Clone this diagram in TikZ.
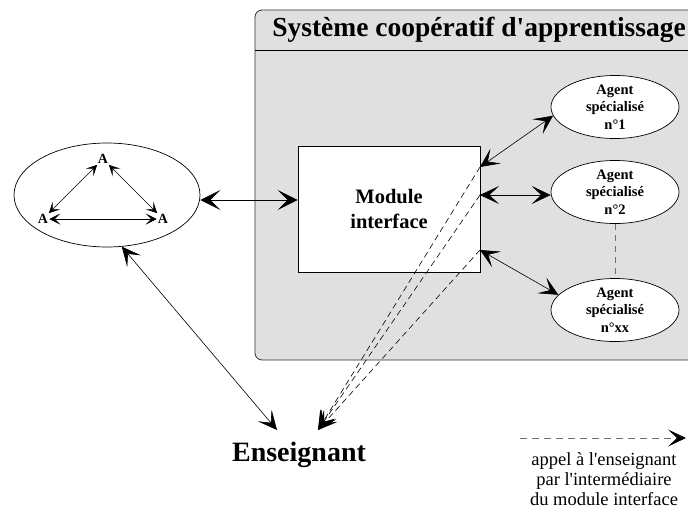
\documentclass[tikz,border=0pt]{standalone}
\usepackage{fontspec}
\setmainfont{Liberation Serif}[Ligatures=TeXOff]
\usetikzlibrary{arrows.meta,shapes.geometric,calc}
\definecolor{sysgrey}{HTML}{E0E0E0}
\definecolor{legendgrey}{HTML}{707070}
\begin{document}
\begin{tikzpicture}[x=1pt,y=-1pt,
  bigarrow/.style={line width=0.7pt,{Stealth[length=20pt,width=20pt,inset=10pt]}-{Stealth[length=20pt,width=20pt,inset=10pt]}},
  midarrow/.style={line width=0.6pt,{Stealth[length=19pt,width=18pt,inset=9.5pt]}-{Stealth[length=19pt,width=18pt,inset=9.5pt]}},
  smallarrow/.style={line width=0.6pt,{Stealth[length=11pt,width=11pt,inset=5.5pt]}-{Stealth[length=11pt,width=11pt,inset=5.5pt]}},
  callarrow/.style={line width=0.6pt,dash pattern=on 6pt off 4pt,-{Stealth[length=19pt,width=18pt,inset=9.5pt]}},
  agentbox/.style={draw,ellipse,fill=white,line width=0.7pt,minimum width=128pt,minimum height=54pt,inner sep=0pt,align=center,font=\fontsize{14.5}{17.5}\selectfont\bfseries},
  alabel/.style={inner sep=1pt,font=\fontsize{14}{15}\selectfont\bfseries}
]
\useasboundingbox (0,0) rectangle (688,512);
% system box
\begin{scope}
\clip (0,0) rectangle (688,512);
\path[fill=sysgrey,rounded corners=7] (700,10) -- (255,10) -- (255,360) -- (700,360) -- cycle;
\draw[line width=0.8pt,draw=black!80,rounded corners=7] (700,10) -- (255,10) -- (255,360) -- (700,360);
\draw[line width=0.9pt] (255,50) -- (700,50);
\end{scope}
\node[font=\fontsize{27.5}{30}\selectfont\bfseries] (title) at (479,30) {Système coopératif d'apprentissage};

% left group ellipse
\node[draw,ellipse,line width=0.7pt,minimum width=186pt,minimum height=104pt] (grp) at (107,195) {};
\node[alabel] (at) at (103,159) {A};
\node[alabel] (al) at (43,219) {A};
\node[alabel] (ar) at (163,219) {A};
\draw[smallarrow] (at) -- (al);
\draw[smallarrow] (at) -- (ar);
\draw[smallarrow] (al) -- (ar);

% module interface
\node[draw,fill=white,line width=0.7pt,minimum width=182pt,minimum height=126pt,inner sep=0pt,align=center,font=\fontsize{20.5}{25}\selectfont\bfseries] (mod) at (389,209) {Module\\interface};
\coordinate (m1) at (480,167);
\coordinate (m2) at (480,195);
\coordinate (m3) at (480,250);

% agents
\node[agentbox] (a1) at (615,107) {Agent\\spécialisé\\n°1};
\node[agentbox] (a2) at (615,192) {Agent\\spécialisé\\n°2};
\node[agentbox] (a3) at (615,310) {Agent\\spécialisé\\n°xx};
\draw[legendgrey,line width=0.7pt,dash pattern=on 6pt off 5pt] (a2.south) -- (a3.north);

% teacher
\node[font=\fontsize{28}{30}\selectfont\bfseries] (ens) at (299,455) {Enseignant};
\coordinate (e1) at (277,430);
\coordinate (e2) at (318,430);

% connectors
\draw[bigarrow] (grp.east |- 0,200) -- (mod.west |- 0,200);
\draw[midarrow] (m1) -- (a1.188);
\draw[midarrow] (m2) -- (a2.west |- m2);
\draw[midarrow] (m3) -- (a3.165);
\draw[midarrow] (grp.-74) -- (e1);
\draw[callarrow] (m1) -- (e2);
\draw[callarrow] (m2) -- (e2);
\draw[callarrow] (m3) -- (e2);

% legend
\coordinate (l1) at (520,438);
\coordinate (l2) at (686,438);
\draw[legendgrey,line width=0.8pt,dash pattern=on 7pt off 5pt,-{Stealth[length=18pt,width=17pt,inset=9pt,color=black]}] (l1) -- (l2);
\node[align=center,font=\fontsize{18.5}{20}\selectfont] (leg) at (604,479) {appel à l'enseignant\\par l'intermédiaire\\du module interface};
\end{tikzpicture}
\end{document}
